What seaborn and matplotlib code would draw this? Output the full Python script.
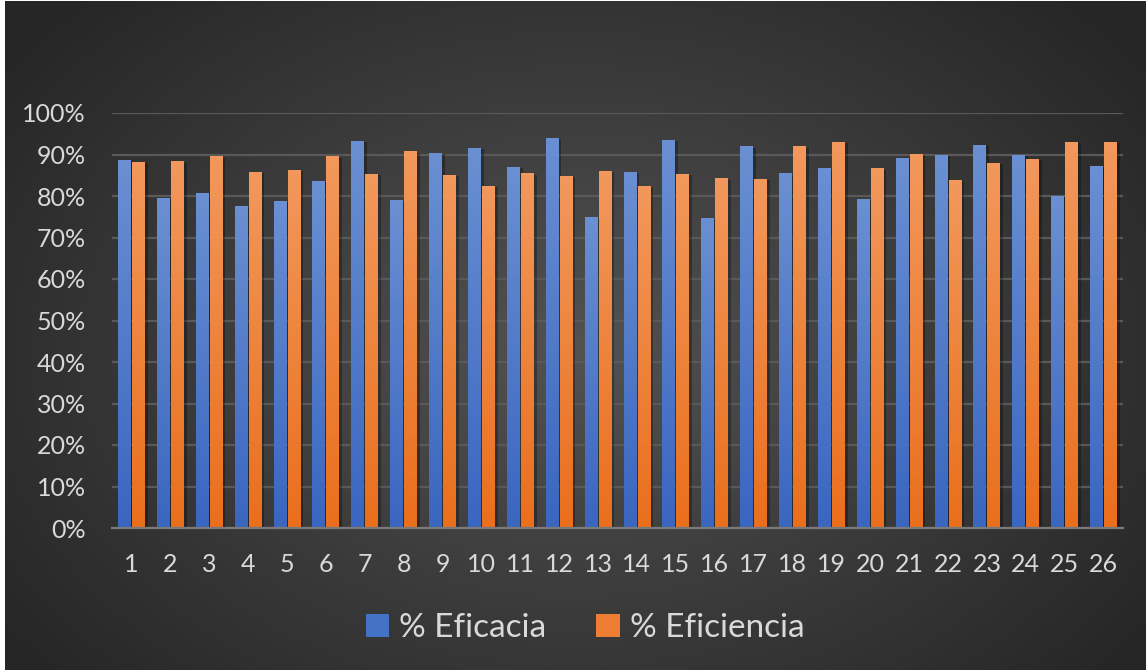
import numpy as np
import pandas as pd
import matplotlib.pyplot as plt
import seaborn as sns
from matplotlib import patheffects
from matplotlib.colors import LinearSegmentedColormap
from matplotlib.patches import Patch
from matplotlib.ticker import PercentFormatter

plt.rcParams['font.family'] = ['Lato', 'DejaVu Sans']

# data
dias = list(range(1, 27))
eficacia = [0.887, 0.795, 0.807, 0.776, 0.788, 0.836, 0.933, 0.790, 0.904, 0.916,
            0.870, 0.940, 0.749, 0.858, 0.935, 0.747, 0.920, 0.855, 0.867, 0.793,
            0.892, 0.899, 0.923, 0.899, 0.800, 0.872]
eficiencia = [0.882, 0.884, 0.896, 0.858, 0.863, 0.896, 0.853, 0.908, 0.851, 0.824,
              0.855, 0.848, 0.860, 0.824, 0.853, 0.843, 0.841, 0.920, 0.930, 0.867,
              0.901, 0.839, 0.880, 0.889, 0.930, 0.930]
series = ['% Eficacia', '% Eficiencia']
colores = ['#4472c4', '#ed7d31']
grad_top = ['#6a8fd2', '#f2985c']
grad_bot = ['#3a66c0', '#ea6f1c']

df = pd.DataFrame({
    'Dia': dias * 2,
    'Valor': eficacia + eficiencia,
    'Serie': [series[0]] * len(dias) + [series[1]] * len(dias),
})

W, H = 1147, 671
fig = plt.figure(figsize=(W / 100, H / 100), dpi=100, facecolor='white')

# dark radial background
bg = fig.add_axes([5 / W, 1 / H, 1 - 6 / W, 1 - 2 / H])
yy, xx = np.mgrid[0:1:300j, 0:1:500j]
r = np.sqrt(((xx - 0.5) / 0.62) ** 2 + ((yy - 0.52) / 0.75) ** 2)
bg.imshow(r, cmap=LinearSegmentedColormap.from_list('bg', ['#525252', '#3c3c3c', '#262626']),
          extent=[0, 1, 0, 1], aspect='auto', vmin=0, vmax=1)
bg.axis('off')

ax = fig.add_axes([112 / W, (H - 528) / H, (1123 - 112) / W, (528 - 113) / H])
ax.set_facecolor('none')
sns.barplot(data=df, x='Dia', y='Valor', hue='Serie', palette=colores,
            width=0.72, gap=0.08, saturation=1, legend=False, ax=ax, zorder=3)

ax.set_ylim(0, 1)
xlim = ax.get_xlim()

# vertical gradient + soft shadow on each bar
for cont, top, bot in zip(ax.containers, grad_top, grad_bot):
    cmap = LinearSegmentedColormap.from_list('g', [bot, top])
    for bar in cont:
        bar.set_path_effects([
            patheffects.SimplePatchShadow(offset=(2, -1), shadow_rgbFace='black', alpha=0.3),
            patheffects.Normal()])
        x0, w, h = bar.get_x(), bar.get_width(), bar.get_height()
        im = ax.imshow(np.linspace(0, 1, 100).reshape(-1, 1), cmap=cmap, origin='lower',
                       extent=[x0, x0 + w, 0, h], aspect='auto', zorder=4)
        im.set_clip_path(bar)

ax.set_xlim(xlim)
ax.set_ylim(0, 1)
ax.set_aspect('auto')

ax.yaxis.set_major_formatter(PercentFormatter(1.0, decimals=0))
ax.set_yticks(np.arange(0, 1.01, 0.1))
ax.yaxis.grid(True, color='#595959', lw=1.6)
ax.set_axisbelow(True)
for s in ['top', 'right', 'left']:
    ax.spines[s].set_visible(False)
ax.spines['bottom'].set_color('#7a7a7a')
ax.spines['bottom'].set_linewidth(1.6)
ax.spines['bottom'].set_zorder(5)
ax.tick_params(axis='y', length=0, colors='#d9d9d9', labelsize=18, pad=19)
ax.tick_params(axis='x', length=0, colors='#d9d9d9', labelsize=18, pad=18)
ax.set_xlabel('')
ax.set_ylabel('')

handles = [Patch(facecolor=c, edgecolor='none') for c in colores]
fig.legend(handles, series, loc='center', bbox_to_anchor=(0.51, 1 - 628 / H), ncol=2,
           frameon=False, fontsize=24, labelcolor='#d9d9d9', handlelength=0.7,
           handleheight=0.7, handletextpad=0.3, columnspacing=1.5)

fig.savefig('out.png', dpi=100)
